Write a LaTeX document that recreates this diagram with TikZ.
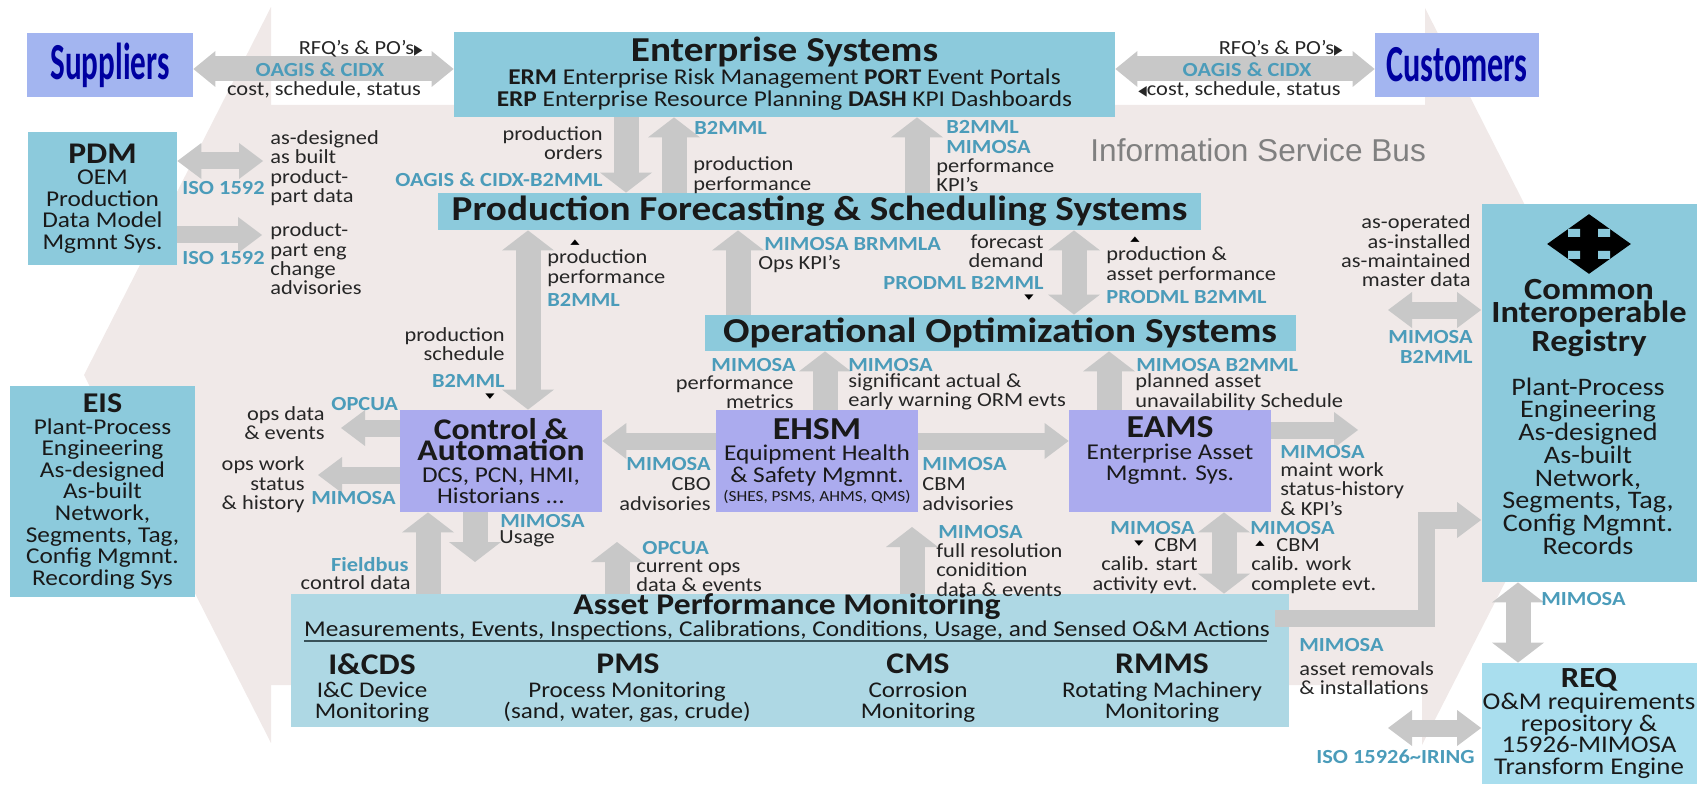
\documentclass[tikz,border=0pt]{standalone}
\usepackage{fontspec}
\usepackage{graphicx}
\usepackage{tikz}
\usetikzlibrary{arrows.meta,shapes.geometric}
\setmainfont{Carlito}[FakeStretch=1.12]
\newfontfamily\symfont{DejaVu Sans}
\newfontfamily\busfont{Liberation Sans}
\definecolor{backpink}{HTML}{F0E9E8}
\definecolor{boxteal}{HTML}{8CCADC}
\definecolor{boxlilac}{HTML}{ABABEE}
\definecolor{boxpale}{HTML}{AED8E4}
\definecolor{boxsky}{HTML}{A9DEEE}
\definecolor{boxpeer}{HTML}{A3B5F0}
\definecolor{arrowgray}{HTML}{C8C8C8}
\definecolor{stdblue}{HTML}{4B9CBA}
\definecolor{peernavy}{HTML}{0000A0}
\newcommand{\mkright}{{\symfont\scalebox{.55}[.7]{▶}}}
\newcommand{\mkleft}{{\symfont\scalebox{.55}[.7]{◀}}}
\newcommand{\mkup}{\scalebox{1.1}[.65]{▲}}
\newcommand{\mkdown}{\scalebox{1.1}[.65]{▼}}
\newcommand{\ctlfont}{\fontsize{15}{11.3}\bfseries}

\begin{document}
\begin{tikzpicture}
[
    x = 0.5pt, y = -0.5pt,
    txt/.style = {font = \fontsize{10}{9.7}\selectfont, text = black!85, inner sep = 0pt, align = left, anchor = west},
    txtr/.style = {txt, align = right, anchor = east},
    std/.style = {font = \fontsize{10}{9.7}\bfseries, text = stdblue, inner sep = 0pt, anchor = west},
    stdr/.style = {std, align = right, anchor = east},
    tick/.style = {font = \symfont\fontsize{5.5}{6}\selectfont, inner sep = 0pt},
    box/.style = {inner sep = 0pt, align = center, text = black!90, font = \fontsize{11.3}{10.8}\selectfont},
    tealbox/.style = {box, fill = boxteal},
    lilacbox/.style = {box, fill = boxlilac},
    peer/.style = {inner sep = 0pt, fill = boxpeer, text = peernavy, font = \fontsize{26}{26}\bfseries},
    colhead/.style = {box, font = \fontsize{15}{15}\bfseries},
    coltext/.style = {box, font = \fontsize{11.2}{10.6}\selectfont},
    bigarrow/.style = {draw = arrowgray, line width = 12.5pt, >={Triangle[length=10pt,width=26pt,line width=0pt]}},
    midarrow/.style = {draw = arrowgray, line width = 8.5pt, >={Triangle[length=12pt,width=18pt,line width=0pt]}},
    busarrow/.style = {draw = arrowgray, line width = 12.5pt, >={Triangle[length=11pt,width=18pt,line width=0pt]}},
]
    \useasboundingbox (0,0) rectangle (1702,786);
    \fill[backpink] (271,7) -- (271,105) -- (1425,105) -- (1425,8) -- (1611,375) -- (1422,745) -- (1422,685)
        -- (271,685) -- (271,743) -- (84,375) -- cycle;

    \node[peer, minimum width = 83pt, minimum height = 32pt] (sup) at (110,65) {\scalebox{.535}[1]{Suppliers}};
    \node[peer, minimum width = 82pt, minimum height = 32pt] (cus) at (1457,65) {\scalebox{.553}[1]{Customers}};
    \node[tealbox, minimum width = 330.5pt, minimum height = 42.5pt] (ent) at (784.5,74.5)
        {{\fontsize{17.5}{20}\bfseries Enterprise Systems}\\[.75pt]
        {\bfseries ERM} Enterprise Risk Management {\bfseries PORT} Event Portals\\
        {\bfseries ERP} Enterprise Resource Planning {\bfseries DASH} KPI Dashboards\\[-8pt]\mbox{}};
    \node[tealbox, minimum width = 74.5pt, minimum height = 66.5pt] (pdm) at (102.5,198.5)
        {{\fontsize{15}{14}\bfseries PDM}\\OEM\\Production\\Data Model\\Mgmnt Sys.};
    \node[tealbox, minimum width = 92.5pt, minimum height = 105.5pt] (eis) at (102.5,491.5)
        {{\fontsize{14.3}{14}\bfseries EIS}\\Plant-Process\\Engineering\\As-designed\\As-built\\Network,\\Segments, Tag,\\Config Mgmnt.\\Recording Sys};
    \node[tealbox, minimum width = 381.5pt, minimum height = 18.5pt, font = \fontsize{17.5}{18}\bfseries] (pfs) at (819.5,211.5)
        {Production Forecasting \& Scheduling Systems};
    \node[tealbox, minimum width = 295.5pt, minimum height = 18pt, font = \fontsize{17.5}{18}\bfseries] (oos) at (1000,333)
        {Operational Optimization Systems};
    \node[lilacbox, minimum width = 101pt, minimum height = 51pt] (ctl) at (501,461)
        {{\ctlfont Control \&}\\{\ctlfont Automation}\\DCS, PCN, HMI,\\Historians ...};
    \node[lilacbox, minimum width = 101pt, minimum height = 51pt] (ehsm) at (817,461)
        {{\fontsize{16}{12}\bfseries EHSM}\\Equipment Health\\\& Safety Mgmnt.\\[-1pt]{\fontsize{7.7}{8}\selectfont (SHES, PSMS, AHMS, QMS)}};
    \node[lilacbox, minimum width = 101pt, minimum height = 51pt] (eams) at (1170,461)
        {{\fontsize{16}{12}\bfseries EAMS}\\Enterprise Asset\\Mgmnt. Sys.\\[-1pt]{\fontsize{7.7}{8}\selectfont\strut}};
    \node[box, fill = boxpale, minimum width = 499pt, minimum height = 66.5pt] (apm) at (790,660.5) {};
    \node[tealbox, minimum width = 107.5pt, minimum height = 189pt] (reg) at (1589,393) {};
    \node[box, fill = boxsky, minimum width = 107.5pt, minimum height = 60.5pt, font = \fontsize{12}{10.8}\selectfont] (req) at (1589,723.5)
        {{\fontsize{14.6}{14}\bfseries REQ}\\O\&M requirements\\repository \&\\15926-MIMOSA\\Transform Engine};

    \coordinate (pdmdata) at (263,161);
    \coordinate (pdmchange) at (262,235);
    \coordinate (opsdata) at (341,428);
    \coordinate (opswork) at (318,475);
    \coordinate (usageend) at (475,562);
    \coordinate (opcuaend) at (617,542);
    \coordinate (fullres) at (912,527);
    \coordinate (eamswork) at (1358,430);
    \coordinate (regdata) at (1388,310);
    \coordinate (isoend) at (1388,728);
    \coordinate (elbowa) at (1275,618);
    \coordinate (elbowb) at (1426,618);
    \coordinate (elbowc) at (1426,520);

    \draw[busarrow, <->] (sup.east |- 0,69) -- (ent.west |- 0,69);
    \draw[busarrow, <->] (ent.east |- 0,69) -- (cus.west |- 0,69);
    \draw[midarrow, <->] (pdm.east |- pdmdata) -- (pdmdata);
    \draw[midarrow, ->] (pdm.east |- pdmchange) -- (pdmchange);
    \draw[bigarrow, ->] (626,0 |- ent.south) -- (626,0 |- pfs.north);
    \draw[bigarrow, ->] (674,0 |- pfs.north) -- (674,0 |- ent.south);
    \draw[bigarrow, ->] (917,0 |- pfs.north) -- (917,0 |- ent.south);
    \draw[bigarrow, <->] (528,0 |- pfs.south) -- (528,0 |- ctl.north);
    \draw[bigarrow, ->] (738,0 |- oos.north) -- (738,0 |- pfs.south);
    \draw[bigarrow, <->] (1074,0 |- pfs.south) -- (1074,0 |- oos.north);
    \draw[bigarrow, ->] (825,0 |- ehsm.north) -- (825,0 |- oos.south);
    \draw[bigarrow, ->] (1109,0 |- eams.north) -- (1109,0 |- oos.south);
    \draw[midarrow, ->] (ctl.west |- opsdata) -- (opsdata);
    \draw[midarrow, ->] (ctl.west |- opswork) -- (opswork);
    \draw[midarrow, ->] (ehsm.west |- 0,441) -- (ctl.east |- 0,441);
    \draw[midarrow, ->] (ehsm.east |- 0,441) -- (eams.west |- 0,441);
    \draw[midarrow, ->] (eams.east |- eamswork) -- (eamswork);
    \draw[bigarrow, ->] (428,0 |- apm.north) -- (428,0 |- ctl.south);
    \draw[bigarrow, ->] (usageend |- ctl.south) -- (usageend);
    \draw[bigarrow, ->] (opcuaend |- apm.north) -- (opcuaend);
    \draw[bigarrow, ->] (fullres |- apm.north) -- (fullres);
    \draw[bigarrow, <->] (1224,0 |- eams.south) -- (1224,0 |- apm.north);
    \draw[midarrow, ->] (elbowa) -- (elbowb) -- (elbowc) -- (reg.west |- elbowc);
    \draw[midarrow, <->] (regdata) -- (reg.west |- regdata);
    \draw[bigarrow, <->] (1518,0 |- reg.south) -- (1518,0 |- req.north);
    \draw[midarrow, <->] (isoend) -- (req.west |- isoend);

    \node[font = \busfont\fontsize{15.8}{16}\selectfont, text = black!50, inner sep = 0pt, anchor = west] (bus) at (1090,150) {Information Service Bus};

    \node[txtr] (rfqa) at (423,49) {RFQ’s \& PO’s\mkright};
    \node[std, anchor = center] (oagisa) at (320,70) {OAGIS \& CIDX};
    \node[txt, anchor = center] (costa) at (324,90) {cost, schedule, status};
    \node[txtr] (rfqb) at (1343,49) {RFQ’s \& PO’s\mkright};
    \node[std, anchor = center] (oagisb) at (1247,70) {OAGIS \& CIDX};
    \node[txtr] (costb) at (1341,90) {\mkleft cost, schedule, status};

    \node[txt] (pdmtext) at (270,168) {as-designed\\as built\\product-\\part data};
    \node[std] (isoa) at (182,188) {ISO 1592};
    \node[std] (isob) at (182,258) {ISO 1592};
    \node[txt] (pdmeng) at (270,259) {product-\\part eng\\change\\advisories};

    \node[txtr] (orders) at (603,143) {production\\orders};
    \node[stdr] (oagisc) at (603,180) {OAGIS \& CIDX-B2MML};
    \node[std] (bmla) at (694,128) {B2MML};
    \node[txt] (perfa) at (693,175) {production\\performance};
    \node[std, align = left] (bmlb) at (946,137) {B2MML\\[.6pt]MIMOSA};
    \node[txt] (kpia) at (936,175) {performance\\KPI’s};

    \node[tick] (tka) at (575,243) {\mkup};
    \node[txt] (perfb) at (547,268) {production\\performance};
    \node[std] (bmlc) at (547,300) {B2MML};
    \node[txtr] (sched) at (505,344) {production\\schedule};
    \node[stdr] (bmld) at (505,381) {B2MML};
    \node[tick] (tkb) at (490,397) {\mkdown};

    \node[std] (brm) at (764,244) {MIMOSA BRMMLA};
    \node[txt] (opskpi) at (758,264) {Ops KPI’s};
    \node[txtr] (demand) at (1044,251) {forecast\\demand};
    \node[stdr] (proda) at (1044,283) {PRODML B2MML};
    \node[tick] (tkc) at (1029,298) {\mkdown};
    \node[tick] (tkd) at (1135,240) {\mkup};
    \node[txt] (perfc) at (1106,265) {production \&\\asset performance};
    \node[std] (prodb) at (1106,297) {PRODML B2MML};

    \node[txtr] (master) at (1471,251) {as-operated\\as-installed\\as-maintained\\master data};
    \node[stdr] (mima) at (1473,347) {MIMOSA\\[.6pt]B2MML};

    \node[stdr] (mimb) at (796,365) {MIMOSA};
    \node[txtr] (metrics) at (794,392) {performance\\metrics};
    \node[std] (mimc) at (848,365) {MIMOSA};
    \node[txt] (signif) at (848,392) {significant actual \&\\early warning ORM evts};
    \node[std] (mimd) at (1136,365) {MIMOSA B2MML};
    \node[txt] (planned) at (1135,392) {planned asset\\unavailability Schedule};

    \node[txtr] (opsa) at (325,423) {ops data\\\& events};
    \node[std] (opcuaa) at (331,404) {OPCUA};
    \node[txtr] (opsb) at (305,485) {ops work\\status\\\& history};
    \node[std] (mime) at (311,498) {MIMOSA};

    \node[stdr] (mimf) at (711,464) {MIMOSA};
    \node[txtr] (cbo) at (711,494) {CBO\\advisories};
    \node[std] (mimg) at (922,464) {MIMOSA};
    \node[txt] (cbm) at (922,494) {CBM\\advisories};
    \node[std] (mimh) at (1280,452) {MIMOSA};
    \node[txt] (maint) at (1280,489) {maint work\\status-history\\\& KPI’s};

    \node[std] (mimi) at (500,521) {MIMOSA};
    \node[txt] (usage) at (499,539) {Usage};
    \node[stdr] (field) at (409,565) {Fieldbus};
    \node[txtr] (control) at (411,583) {control data};
    \node[std] (opcuab) at (642,548) {OPCUA};
    \node[txt] (current) at (636,576) {current ops\\data \& events};
    \node[std] (mimj) at (938,532) {MIMOSA};
    \node[txt] (fullrestext) at (936,570) {full resolution\\conidition\\data \& events};

    \node[stdr] (mimk) at (1195,528) {MIMOSA};
    \node[tick] (tke) at (1139,544) {\mkdown};
    \node[txtr] (cbmstart) at (1198,566) {CBM\\calib. start\\activity evt.};
    \node[std] (miml) at (1250,528) {MIMOSA};
    \node[tick] (tkf) at (1260,544) {\mkup};
    \node[txt] (cbmwork) at (1251,566) {\hspace{12.5pt}CBM\\calib. work\\complete evt.};

    \node[box, font = \fontsize{15}{15}\bfseries] (apmtitle) at (787,607) {Asset Performance Monitoring};
    \node[box, font = \fontsize{11.3}{11}\selectfont] (apmline) at (787,631) {Measurements, Events, Inspections, Calibrations, Conditions, Usage, and Sensed O\&M Actions};
    \coordinate (rulea) at (304,641);
    \coordinate (ruleb) at (1267,641);
    \draw[black!60!boxteal, line width = .6pt] (rulea) -- (ruleb);

    \node[colhead] (icds) at (372,664) {I\&CDS};
    \node[coltext] (icdstext) at (372,702) {I\&C Device\\Monitoring};
    \node[colhead] (pms) at (628,664) {PMS};
    \node[coltext] (pmstext) at (627,702) {Process Monitoring\\(sand, water, gas, crude)};
    \node[colhead] (cms) at (918,664) {CMS};
    \node[coltext] (cmstext) at (918,702) {Corrosion\\Monitoring};
    \node[colhead] (rmms) at (1162,664) {RMMS};
    \node[coltext] (rmmstext) at (1162,702) {Rotating Machinery\\Monitoring};

    \node[diamond, fill = black, inner sep = 0pt, minimum width = 42pt, minimum height = 30pt] (regmark) at (1589,244) {};
    \fill[boxteal] (1568,229) rectangle (1580,237) (1598,229) rectangle (1610,237) (1568,251) rectangle (1580,259) (1598,251) rectangle (1610,259);
    \node[box, font = \fontsize{15.4}{11.3}\bfseries] (regtitle) at (1589,318) {Common\\Interoperable\\Registry};
    \node[box, font = \fontsize{12.6}{11.35}\selectfont] (regtext) at (1588,466) {Plant-Process\\Engineering\\As-designed\\As-built\\Network,\\Segments, Tag,\\Config Mgmnt.\\Records};

    \node[std] (mimm) at (1541,599) {MIMOSA};
    \node[std] (mimn) at (1299,645) {MIMOSA};
    \node[txt] (removals) at (1299,678) {asset removals\\\& installations};
    \node[stdr] (isoc) at (1475,757) {ISO 15926\textasciitilde IRING};
\end{tikzpicture}
\end{document}
